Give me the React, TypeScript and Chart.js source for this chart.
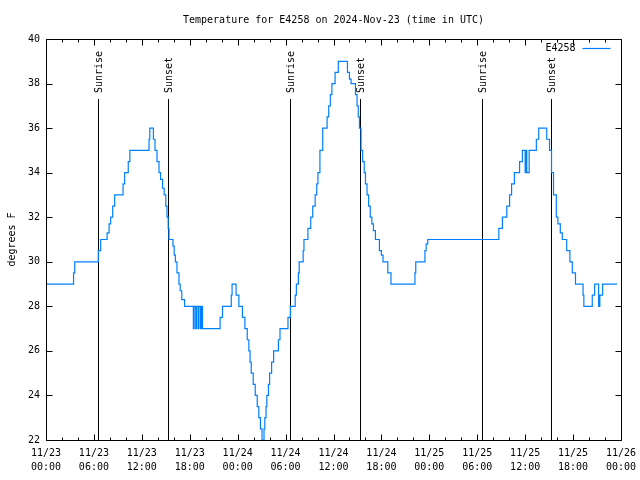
import React, { useEffect, useRef } from "react";
import { Chart, registerables } from "chart.js";

Chart.register(...registerables);

const TITLE = "Temperature for E4258 on 2024-Nov-23 (time in UTC)";
const SERIES_NAME = "E4258";
const Y_TITLE = "degrees F";
const FONT = "'DejaVu Sans Mono', 'Liberation Mono', monospace";

// hours since 2024-11-23 00:00 UTC at which the reading changes, and the new reading (°F)
const hours = [
  0, 3.45, 3.6, 6.55, 6.85, 7.65, 7.9, 8.1, 8.35, 8.6, 9.65, 9.85, 10.3, 10.5,
  12.9, 13.0, 13.45, 13.65, 13.9, 14.15, 14.35, 14.6, 14.8, 15.0, 15.15, 15.3, 15.4,
  15.9, 16.05, 16.2, 16.4, 16.65, 16.8, 17.0, 17.35,
  18.45, 18.55, 18.75, 18.85, 19.05, 19.15, 19.35, 19.45, 19.6,
  21.8, 22.1, 23.2, 23.3, 23.8, 24.15, 24.6, 24.9, 25.2, 25.4, 25.55, 25.7, 25.95,
  26.2, 26.45, 26.65, 26.85, 27.05, 27.3, 27.4, 27.55, 27.65, 27.85, 28.0, 28.25,
  28.5, 29.1, 29.3, 30.3, 30.6, 31.2, 31.35, 31.6, 31.7, 32.2, 32.3, 32.8, 33.15,
  33.4, 33.7, 33.9, 34.05, 34.3, 34.65, 35.2, 35.4, 35.6, 35.8, 36.2, 36.6,
  37.75, 38.0, 38.2, 38.75, 38.95, 39.1, 39.25, 39.45, 39.65, 39.85, 40.0, 40.2,
  40.4, 40.6, 40.8, 41.0, 41.25, 41.75, 42.0, 42.2, 42.8, 43.2, 46.2, 46.3, 47.45,
  47.6, 47.8, 56.7, 57.15, 57.7, 58.05, 58.3, 58.65, 59.3, 59.65, 60.0, 60.1, 60.2,
  60.5, 61.4, 61.7, 62.7, 63.05, 63.3, 63.55, 63.9, 64.1, 64.4, 64.65, 65.2, 65.6,
  65.9, 66.3, 67.25, 67.35, 68.4, 68.7, 69.2, 69.35, 69.7, 71.5,
];
const temps = [
  29, 29.5, 30, 30.5, 31, 31.3, 31.7, 32, 32.5, 33, 33.5, 34, 34.5, 35,
  35.5, 36, 35.5, 35, 34.5, 34, 33.7, 33.3, 33, 32.5, 32, 31.5, 31,
  30.7, 30.3, 30, 29.5, 29, 28.7, 28.3, 28,
  27, 28, 27, 28, 27, 28, 27, 28, 27,
  27.5, 28, 28.5, 29, 28.5, 28, 27.5, 27, 26.5, 26, 25.5, 25, 24.5,
  24, 23.5, 23, 22.5, 22, 22.5, 23, 23.5, 24, 24.5, 25, 25.5,
  26, 26.5, 27, 27.5, 28, 28.5, 29, 29.5, 30, 30.5, 31, 31.5, 32,
  32.5, 33, 33.5, 34, 35, 36, 36.5, 37, 37.5, 38, 38.5, 39,
  38.5, 38.2, 38, 37.5, 37, 36.5, 36, 35, 34.5, 34, 33.5, 33,
  32.5, 32, 31.7, 31.4, 31, 30.5, 30.3, 30, 29.5, 29, 29.5, 30, 30.5,
  30.8, 31, 31.5, 32, 32.5, 33, 33.5, 34, 34.5, 35, 34, 35, 34,
  35, 35.5, 36, 35.5, 35, 34, 33, 32, 31.7, 31.3, 31, 30.5, 30,
  29.5, 29, 28.5, 28, 28.5, 29, 28, 28.5, 29, 29,
];

const sunriseHours = [6.52, 30.55, 54.6];
const sunsetHours = [15.28, 39.28, 63.25];

const xTickHours = [0, 6, 12, 18, 24, 30, 36, 42, 48, 54, 60, 66, 72];
const xTickDates = ["11/23", "11/23", "11/23", "11/23", "11/24", "11/24", "11/24", "11/24", "11/25", "11/25", "11/25", "11/25", "11/26"];
const xTickTimes = ["00:00", "06:00", "12:00", "18:00", "00:00", "06:00", "12:00", "18:00", "00:00", "06:00", "12:00", "18:00", "00:00"];
const xMinorStep = 2;
const yMin = 22;
const yMax = 40;
const yStep = 2;

const LINE_COLOR = "#0080ff";

const decorPlugin = {
  id: "decor",
  beforeDatasetsDraw(chart: any) {
    const { ctx, chartArea, scales } = chart;
    const xs = scales.x;
    ctx.save();
    ctx.strokeStyle = "#000";
    ctx.lineWidth = 1;
    ctx.fillStyle = "#000";
    ctx.font = `10px ${FONT}`;
    const lineTop = chartArea.top + 60;
    const drawSun = (h: number, label: string) => {
      const x = Math.round(xs.getPixelForValue(h)) + 0.5;
      ctx.beginPath();
      ctx.moveTo(x, lineTop);
      ctx.lineTo(x, chartArea.bottom);
      ctx.stroke();
      ctx.save();
      ctx.translate(x + 1, lineTop - 6);
      ctx.rotate(-Math.PI / 2);
      ctx.textAlign = "left";
      ctx.textBaseline = "middle";
      ctx.fillText(label, 0, 0);
      ctx.restore();
    };
    sunriseHours.forEach((h) => drawSun(h, "Sunrise"));
    sunsetHours.forEach((h) => drawSun(h, "Sunset"));
    ctx.restore();
  },
  afterDraw(chart: any) {
    const { ctx, chartArea, scales } = chart;
    const xs = scales.x;
    const ys = scales.y;
    const L = chartArea.left + 0.5;
    const R = Math.round(chartArea.right) + 0.5;
    const T = Math.round(chartArea.top) + 0.5;
    const B = Math.round(chartArea.bottom) + 0.5;
    ctx.save();
    ctx.strokeStyle = "#000";
    ctx.lineWidth = 1;
    ctx.beginPath();
    ctx.rect(L, T, R - L, B - T);
    ctx.stroke();
    ctx.beginPath();
    // x ticks
    for (let h = xs.min; h <= xs.max + 1e-9; h += xMinorStep) {
      const x = Math.round(xs.getPixelForValue(h)) + 0.5;
      const major = xTickHours.includes(h);
      const len = major ? 6 : 3;
      ctx.moveTo(x, B);
      ctx.lineTo(x, B - len);
      ctx.moveTo(x, T);
      ctx.lineTo(x, T + len);
    }
    // y ticks
    for (let v = yMin; v <= yMax; v += yStep) {
      const y = Math.round(ys.getPixelForValue(v)) + 0.5;
      ctx.moveTo(L, y);
      ctx.lineTo(L + 6, y);
      ctx.moveTo(R, y);
      ctx.lineTo(R - 6, y);
    }
    ctx.stroke();

    ctx.fillStyle = "#000";
    ctx.font = `10px ${FONT}`;
    // title
    ctx.textAlign = "center";
    ctx.textBaseline = "middle";
    ctx.fillText(TITLE, (chartArea.left + chartArea.right) / 2, 20);
    // y axis title
    ctx.save();
    ctx.translate(12, (chartArea.top + chartArea.bottom) / 2);
    ctx.rotate(-Math.PI / 2);
    ctx.textAlign = "center";
    ctx.textBaseline = "middle";
    ctx.fillText(Y_TITLE, 0, 0);
    ctx.restore();
    // legend
    const ly = T + 9;
    ctx.textAlign = "right";
    ctx.fillText(SERIES_NAME, R - 46, ly);
    ctx.strokeStyle = LINE_COLOR;
    ctx.lineWidth = 1.2;
    ctx.beginPath();
    ctx.moveTo(R - 39, ly);
    ctx.lineTo(R - 11, ly);
    ctx.stroke();
    ctx.restore();
  },
};

export default function App() {
  const ref = useRef<HTMLCanvasElement | null>(null);
  useEffect(() => {
    if (!ref.current) return;
    const chart = new Chart(ref.current, {
      type: "line",
      data: {
        datasets: [
          {
            label: SERIES_NAME,
            data: hours.map((h, i) => ({ x: h, y: temps[i] })),
            borderColor: LINE_COLOR,
            borderWidth: 1.2,
            pointRadius: 0,
            stepped: "before",
            fill: false,
          },
        ],
      },
      options: {
        responsive: false,
        animation: false,
        devicePixelRatio: 1,
        layout: { padding: { top: 39, right: 19, left: 0, bottom: 0 } },
        plugins: {
          legend: { display: false },
          title: { display: false },
          tooltip: { enabled: false },
        },
        scales: {
          x: {
            type: "linear",
            min: 0,
            max: 72,
            afterFit: (s: any) => {
              s.height = 40;
              s.paddingLeft = 0;
              s.paddingRight = 0;
            },
            afterBuildTicks: (s: any) => {
              s.ticks = xTickHours.map((v) => ({ value: v }));
            },
            grid: { display: false, drawTicks: false },
            border: { display: false },
            ticks: {
              autoSkip: false,
              maxRotation: 0,
              minRotation: 0,
              padding: 6,
              color: "#000",
              font: { family: FONT, size: 10, lineHeight: 1.4 },
              callback: (v: any) => {
                const i = xTickHours.indexOf(Number(v));
                return i >= 0 ? [xTickDates[i], xTickTimes[i]] : "";
              },
            },
          },
          y: {
            min: yMin,
            max: yMax,
            afterFit: (s: any) => {
              s.width = 46;
              s.paddingTop = 0;
              s.paddingBottom = 0;
            },
            grid: { display: false, drawTicks: false },
            border: { display: false },
            ticks: {
              stepSize: yStep,
              padding: 6,
              color: "#000",
              font: { family: FONT, size: 10 },
            },
          },
        },
      },
      plugins: [decorPlugin],
    } as any);
    return () => chart.destroy();
  }, []);
  return (
    <div style={{ position: "absolute", left: 0, top: 0, width: 640, height: 480, background: "#fff" }}>
      <canvas ref={ref} width={640} height={480} style={{ display: "block" }} />
    </div>
  );
}
